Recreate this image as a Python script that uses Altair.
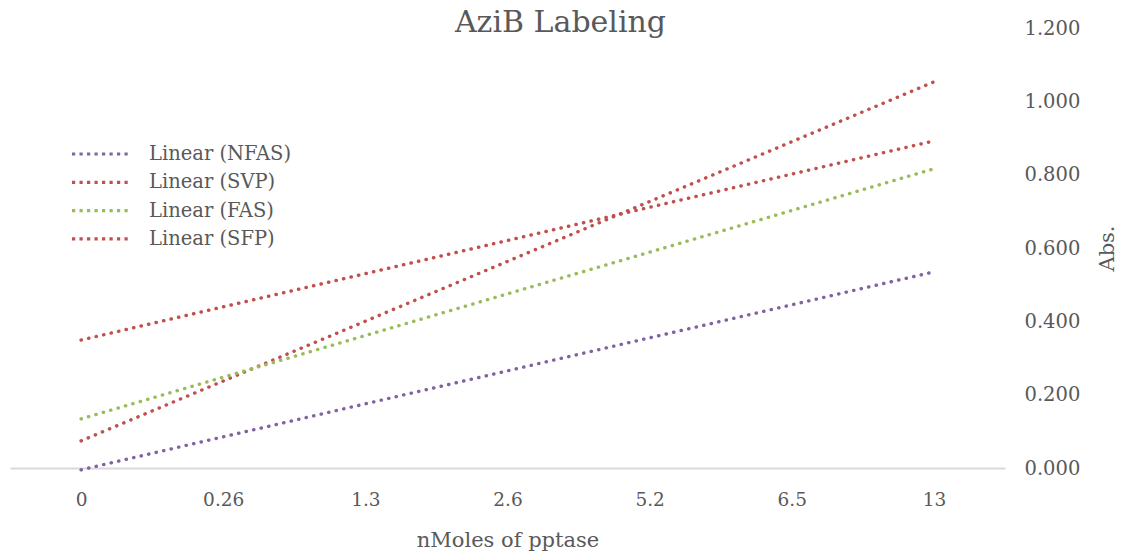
import altair as alt
import pandas as pd

categories = ["0", "0.26", "1.3", "2.6", "5.2", "6.5", "13"]
series = ["Linear (NFAS)", "Linear (SVP)", "Linear (FAS)", "Linear (SFP)"]
start_values = [-0.005, 0.074, 0.134, 0.349]
end_values = [0.535, 1.053, 0.816, 0.892]
colors = ["#8064A2", "#C0504D", "#9BBB59", "#C0504D"]

rows = []
for s, a, b in zip(series, start_values, end_values):
    rows.append({"series": s, "x": categories[0], "v": a})
    rows.append({"series": s, "x": categories[-1], "v": b})
df = pd.DataFrame(rows)

FONT = "DejaVu Serif"
GREY = "#595959"

chart = alt.Chart(df).mark_line(
    strokeWidth=3.4, strokeCap="round", strokeDash=[0.3, 7.4], clip=False
).encode(
    x=alt.X("x:N", sort=categories,
            scale=alt.Scale(type="point", padding=0.5, domain=categories),
            axis=alt.Axis(title="nMoles of pptase", labelAngle=0, ticks=False,
                          domainColor="#D9D9D9", domainWidth=2,
                          labelPadding=22, titlePadding=21, labelFontSize=18.5,
                          titleFontSize=21)),
    y=alt.Y("v:Q", scale=alt.Scale(domain=[0, 1.2], nice=False),
            axis=alt.Axis(title="Abs.", orient="right", format=".3f",
                          values=[0, 0.2, 0.4, 0.6, 0.8, 1.0, 1.2],
                          grid=False, domain=False, ticks=False,
                          labelPadding=19, labelAlign="left",
                          labelFontSize=19.5, titleFontSize=21,
                          titleAngle=270, titlePadding=38)),
    color=alt.Color("series:N", sort=series,
                    scale=alt.Scale(domain=series, range=colors),
                    legend=alt.Legend(title=None, orient="none", legendX=80, legendY=114,
                                      symbolType="M-3,0H3", symbolSize=400,
                                      symbolStrokeWidth=3.2, symbolDash=[3.2, 4.3],
                                      labelFontSize=19.5, labelColor=GREY, labelFont=FONT,
                                      rowPadding=6.3, labelOffset=35)),
    detail="series:N",
).properties(
    width=995, height=440,
    title=alt.TitleParams("AziB Labeling", fontSize=30, font=FONT, color=GREY,
                          fontWeight="normal", anchor="middle", dx=53, dy=24),
    padding={"left": 10, "top": 28, "right": 120, "bottom": 86},
    autosize=alt.AutoSizeParams(type="none"),
).configure_view(stroke=None).configure_axis(
    labelFont=FONT, titleFont=FONT, labelColor=GREY, titleColor=GREY,
    titleFontWeight="normal"
)

chart.save("out.html", embed_options={"renderer": "svg", "actions": False})
